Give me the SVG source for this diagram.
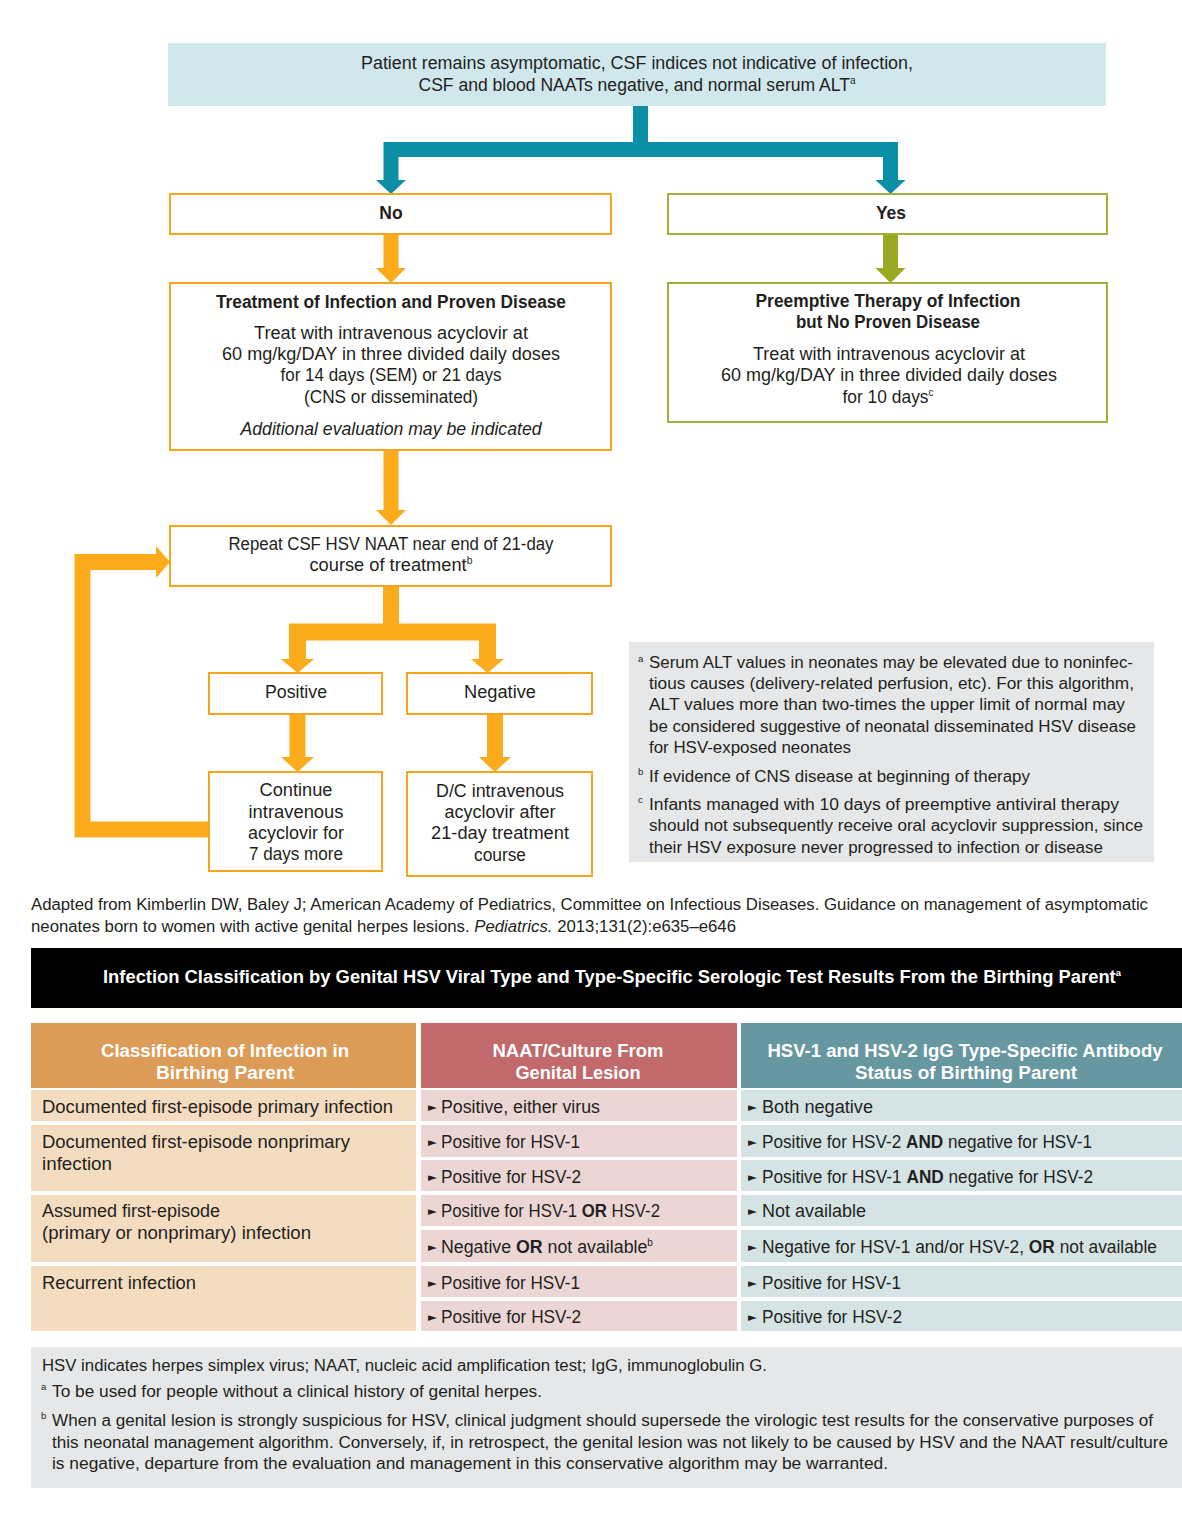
<svg xmlns="http://www.w3.org/2000/svg" width="1182" height="1523" viewBox="0 0 1182 1523">
<style>
.t{font-family:"Liberation Sans",Arial,sans-serif;fill:#231f20;font-size:17.5px}
.s{font-size:16px}
.c{text-anchor:middle}
.b{font-weight:bold}
.i{font-style:italic}
.w{fill:#fff}
.sp{font-family:"Liberation Sans",Arial,sans-serif;fill:#231f20;font-size:9.5px}
.bul{font-family:"DejaVu Sans",sans-serif;font-size:11.5px;fill:#231f20}
.bo{fill:#fff;stroke:#f9a51c;stroke-width:2}
.bg{fill:#fff;stroke:#a2b03a;stroke-width:2}
.teal{fill:none;stroke:#0a8fa7;stroke-width:15;stroke-linejoin:miter}
.tealh{fill:#0a8fa7}
.org{fill:none;stroke:#fbab1c;stroke-width:16;stroke-linejoin:miter}
.orgh{fill:#fbab1c}
.olv{fill:none;stroke:#9ba822;stroke-width:15}
.olvh{fill:#9ba822}
.c1{fill:#f3dcbf}.c2{fill:#ecd6d5}.c3{fill:#d5e3e5}
</style>
<rect width="1182" height="1523" fill="#fff"/>

<g id="connectors">
  <path class="teal" d="M640.5,106 V150"/>
  <path class="teal" d="M391,181 V149.5 H890.5 V181"/>
  <polygon class="tealh" points="376,180 406,180 391,194"/>
  <polygon class="tealh" points="875.5,180 905.5,180 890.5,194"/>
  <path class="org" d="M391,234 V269" style="stroke-width:15"/>
  <polygon class="orgh" points="376,268 406,268 391,283"/>
  <path class="olv" d="M890.5,234 V269"/>
  <polygon class="olvh" points="875.5,268 905.5,268 890.5,283"/>
  <path class="org" d="M391,450 V511" style="stroke-width:15"/>
  <polygon class="orgh" points="376,510 406,510 391,525"/>
  <path class="org" d="M391,586 V632"/>
  <path class="org" d="M297.5,660 V632 H487.5 V660" style="stroke-width:17"/>
  <polygon class="orgh" points="281,659 314,659 297.5,673"/>
  <polygon class="orgh" points="471,659 504,659 487.5,673"/>
  <path class="org" d="M297.5,714 V758"/>
  <polygon class="orgh" points="281,757 314,757 297.5,772"/>
  <path class="org" d="M495,714 V758"/>
  <polygon class="orgh" points="479,757 511,757 495,772"/>
  <path class="org" d="M209,829.5 H82.5 V562 H157"/>
  <polygon class="orgh" points="156,546 156,578 170,562"/>
</g>

<g id="start">
  <rect x="168" y="43" width="938" height="63" fill="#d0e7ec"/>
  <text class="t c" x="637" y="69" textLength="552" lengthAdjust="spacingAndGlyphs">Patient remains asymptomatic, CSF indices not indicative of infection,</text>
  <text class="t c" x="637" y="91" textLength="437" lengthAdjust="spacingAndGlyphs">CSF and blood NAATs negative, and normal serum ALT<tspan font-size="10" dy="-7">a</tspan></text>
</g>

<g id="no">
  <rect class="bo" x="170" y="194" width="441" height="40"/>
  <text class="t c b" x="391" y="219">No</text>
</g>
<g id="yes">
  <rect class="bg" x="668" y="194" width="439" height="40"/>
  <text class="t c b" x="891" y="219">Yes</text>
</g>

<g id="treatment">
  <rect class="bo" x="170" y="283" width="441" height="167"/>
  <text class="t c b" x="391" y="308" textLength="350" lengthAdjust="spacingAndGlyphs">Treatment of Infection and Proven Disease</text>
  <text class="t c" x="391" y="339" textLength="274" lengthAdjust="spacingAndGlyphs">Treat with intravenous acyclovir at</text>
  <text class="t c" x="391" y="360" textLength="338" lengthAdjust="spacingAndGlyphs">60 mg/kg/DAY in three divided daily doses</text>
  <text class="t c" x="391" y="381" textLength="221" lengthAdjust="spacingAndGlyphs">for 14 days (SEM) or 21 days</text>
  <text class="t c" x="391" y="403" textLength="174" lengthAdjust="spacingAndGlyphs">(CNS or disseminated)</text>
  <text class="t c i" x="391" y="435" textLength="301" lengthAdjust="spacingAndGlyphs">Additional evaluation may be indicated</text>
</g>

<g id="preemptive">
  <rect class="bg" x="668" y="283" width="439" height="139"/>
  <text class="t c b" x="888" y="307" textLength="265" lengthAdjust="spacingAndGlyphs">Preemptive Therapy of Infection</text>
  <text class="t c b" x="888" y="328" textLength="184" lengthAdjust="spacingAndGlyphs">but No Proven Disease</text>
  <text class="t c" x="889" y="360" textLength="272" lengthAdjust="spacingAndGlyphs">Treat with intravenous acyclovir at</text>
  <text class="t c" x="889" y="381" textLength="336" lengthAdjust="spacingAndGlyphs">60 mg/kg/DAY in three divided daily doses</text>
  <text class="t c" x="888" y="403" textLength="91" lengthAdjust="spacingAndGlyphs">for 10 days<tspan font-size="10" dy="-7">c</tspan></text>
</g>

<g id="repeat">
  <rect class="bo" x="170" y="526" width="441" height="60"/>
  <text class="t c" x="391" y="550" textLength="325" lengthAdjust="spacingAndGlyphs">Repeat CSF HSV NAAT near end of 21-day</text>
  <text class="t c" x="391" y="571" textLength="163" lengthAdjust="spacingAndGlyphs">course of treatment<tspan font-size="10" dy="-7">b</tspan></text>
</g>

<g id="positive">
  <rect class="bo" x="209" y="673" width="173" height="41"/>
  <text class="t c" x="296" y="698" textLength="62" lengthAdjust="spacingAndGlyphs">Positive</text>
</g>
<g id="negative">
  <rect class="bo" x="407" y="673" width="185" height="41"/>
  <text class="t c" x="500" y="698" textLength="72" lengthAdjust="spacingAndGlyphs">Negative</text>
</g>

<g id="continue">
  <rect class="bo" x="209" y="772" width="173" height="99"/>
  <text class="t c" x="296" y="796" textLength="73" lengthAdjust="spacingAndGlyphs">Continue</text>
  <text class="t c" x="296" y="818" textLength="95" lengthAdjust="spacingAndGlyphs">intravenous</text>
  <text class="t c" x="296" y="839" textLength="96" lengthAdjust="spacingAndGlyphs">acyclovir for</text>
  <text class="t c" x="296" y="860" textLength="94" lengthAdjust="spacingAndGlyphs">7 days more</text>
</g>
<g id="dc">
  <rect class="bo" x="407" y="772" width="185" height="104"/>
  <text class="t c" x="500" y="797" textLength="128" lengthAdjust="spacingAndGlyphs">D/C intravenous</text>
  <text class="t c" x="500" y="818" textLength="111" lengthAdjust="spacingAndGlyphs">acyclovir after</text>
  <text class="t c" x="500" y="839" textLength="138" lengthAdjust="spacingAndGlyphs">21-day treatment</text>
  <text class="t c" x="500" y="861" textLength="52" lengthAdjust="spacingAndGlyphs">course</text>
</g>

<g id="footnotes">
  <rect x="629" y="642" width="525" height="220" fill="#e6e7e8"/>
  <text class="sp" x="638" y="662">a</text>
  <text class="t s" x="649" y="668" textLength="484" lengthAdjust="spacingAndGlyphs">Serum ALT values in neonates may be elevated due to noninfec-</text>
  <text class="t s" x="649" y="689" textLength="485" lengthAdjust="spacingAndGlyphs">tious causes (delivery-related perfusion, etc). For this algorithm,</text>
  <text class="t s" x="649" y="710" textLength="476" lengthAdjust="spacingAndGlyphs">ALT values more than two-times the upper limit of normal may</text>
  <text class="t s" x="649" y="732" textLength="487" lengthAdjust="spacingAndGlyphs">be considered suggestive of neonatal disseminated HSV disease</text>
  <text class="t s" x="649" y="753" textLength="202" lengthAdjust="spacingAndGlyphs">for HSV-exposed neonates</text>
  <text class="sp" x="638" y="775">b</text>
  <text class="t s" x="649" y="782" textLength="381" lengthAdjust="spacingAndGlyphs">If evidence of CNS disease at beginning of therapy</text>
  <text class="sp" x="638" y="803">c</text>
  <text class="t s" x="649" y="810" textLength="470" lengthAdjust="spacingAndGlyphs">Infants managed with 10 days of preemptive antiviral therapy</text>
  <text class="t s" x="649" y="831" textLength="494" lengthAdjust="spacingAndGlyphs">should not subsequently receive oral acyclovir suppression, since</text>
  <text class="t s" x="649" y="853" textLength="454" lengthAdjust="spacingAndGlyphs">their HSV exposure never progressed to infection or disease</text>
</g>

<g id="citation">
  <text class="t s" x="31" y="910" textLength="1117" lengthAdjust="spacingAndGlyphs">Adapted from Kimberlin DW, Baley J; American Academy of Pediatrics, Committee on Infectious Diseases. Guidance on management of asymptomatic</text>
  <text class="t s" x="31" y="932" textLength="705" lengthAdjust="spacingAndGlyphs">neonates born to women with active genital herpes lesions. <tspan font-style="italic">Pediatrics.</tspan> 2013;131(2):e635–e646</text>
</g>

<g id="table-title">
  <rect x="31" y="948" width="1151" height="60" fill="#000"/>
  <text class="t c b w" x="612" y="983" textLength="1018" lengthAdjust="spacingAndGlyphs">Infection Classification by Genital HSV Viral Type and Type-Specific Serologic Test Results From the Birthing Parent<tspan font-size="9" dy="-7">a</tspan></text>
</g>

<g id="table-header">
  <rect x="31" y="1023" width="385" height="65" fill="#dc9b57"/>
  <rect x="421" y="1023" width="316" height="65" fill="#c1696b"/>
  <rect x="741" y="1023" width="441" height="65" fill="#6797a0"/>
  <text class="t c b w" font-size="18.5" x="225" y="1057" textLength="248" lengthAdjust="spacingAndGlyphs">Classification of Infection in</text>
  <text class="t c b w" font-size="18.5" x="225" y="1079" textLength="138" lengthAdjust="spacingAndGlyphs">Birthing Parent</text>
  <text class="t c b w" font-size="18.5" x="578" y="1057" textLength="171" lengthAdjust="spacingAndGlyphs">NAAT/Culture From</text>
  <text class="t c b w" font-size="18.5" x="578" y="1079" textLength="125" lengthAdjust="spacingAndGlyphs">Genital Lesion</text>
  <text class="t c b w" font-size="18.5" x="965" y="1057" textLength="395" lengthAdjust="spacingAndGlyphs">HSV-1 and HSV-2 IgG Type-Specific Antibody</text>
  <text class="t c b w" font-size="18.5" x="966" y="1079" textLength="222" lengthAdjust="spacingAndGlyphs">Status of Birthing Parent</text>
</g>

<g id="table-body">
  <rect class="c1" x="31" y="1090" width="385" height="31"/>
  <rect class="c1" x="31" y="1125" width="385" height="66"/>
  <rect class="c1" x="31" y="1195" width="385" height="67"/>
  <rect class="c1" x="31" y="1266" width="385" height="65"/>
  <rect class="c2" x="421" y="1090" width="316" height="31"/>
  <rect class="c2" x="421" y="1125" width="316" height="32"/>
  <rect class="c2" x="421" y="1160" width="316" height="31"/>
  <rect class="c2" x="421" y="1195" width="316" height="31"/>
  <rect class="c2" x="421" y="1230" width="316" height="32"/>
  <rect class="c2" x="421" y="1266" width="316" height="31"/>
  <rect class="c2" x="421" y="1301" width="316" height="30"/>
  <rect class="c3" x="741" y="1090" width="441" height="31"/>
  <rect class="c3" x="741" y="1125" width="441" height="32"/>
  <rect class="c3" x="741" y="1160" width="441" height="31"/>
  <rect class="c3" x="741" y="1195" width="441" height="31"/>
  <rect class="c3" x="741" y="1230" width="441" height="32"/>
  <rect class="c3" x="741" y="1266" width="441" height="31"/>
  <rect class="c3" x="741" y="1301" width="441" height="30"/>

  <text class="t" x="42" y="1113" textLength="351" lengthAdjust="spacingAndGlyphs">Documented first-episode primary infection</text>
  <text class="t" x="42" y="1148" textLength="308" lengthAdjust="spacingAndGlyphs">Documented first-episode nonprimary</text>
  <text class="t" x="42" y="1170" textLength="70" lengthAdjust="spacingAndGlyphs">infection</text>
  <text class="t" x="42" y="1217" textLength="178" lengthAdjust="spacingAndGlyphs">Assumed first-episode</text>
  <text class="t" x="42" y="1239" textLength="269" lengthAdjust="spacingAndGlyphs">(primary or nonprimary) infection</text>
  <text class="t" x="42" y="1289" textLength="154" lengthAdjust="spacingAndGlyphs">Recurrent infection</text>

  <text class="bul" x="428" y="1111">►</text>
  <text class="bul" x="428" y="1146">►</text>
  <text class="bul" x="428" y="1181">►</text>
  <text class="bul" x="428" y="1215">►</text>
  <text class="bul" x="428" y="1251">►</text>
  <text class="bul" x="428" y="1287">►</text>
  <text class="bul" x="428" y="1321">►</text>
  <text class="t" x="441" y="1113" textLength="159" lengthAdjust="spacingAndGlyphs">Positive, either virus</text>
  <text class="t" x="441" y="1148" textLength="139" lengthAdjust="spacingAndGlyphs">Positive for HSV-1</text>
  <text class="t" x="441" y="1183" textLength="140" lengthAdjust="spacingAndGlyphs">Positive for HSV-2</text>
  <text class="t" x="441" y="1217" textLength="219" lengthAdjust="spacingAndGlyphs">Positive for HSV-1 <tspan font-weight="bold">OR</tspan> HSV-2</text>
  <text class="t" x="441" y="1253" textLength="212" lengthAdjust="spacingAndGlyphs">Negative <tspan font-weight="bold">OR</tspan> not available<tspan font-size="10" dy="-7">b</tspan></text>
  <text class="t" x="441" y="1289" textLength="139" lengthAdjust="spacingAndGlyphs">Positive for HSV-1</text>
  <text class="t" x="441" y="1323" textLength="140" lengthAdjust="spacingAndGlyphs">Positive for HSV-2</text>

  <text class="bul" x="748" y="1111">►</text>
  <text class="bul" x="748" y="1146">►</text>
  <text class="bul" x="748" y="1181">►</text>
  <text class="bul" x="748" y="1215">►</text>
  <text class="bul" x="748" y="1251">►</text>
  <text class="bul" x="748" y="1287">►</text>
  <text class="bul" x="748" y="1321">►</text>
  <text class="t" x="762" y="1113" textLength="111" lengthAdjust="spacingAndGlyphs">Both negative</text>
  <text class="t" x="762" y="1148" textLength="330" lengthAdjust="spacingAndGlyphs">Positive for HSV-2 <tspan font-weight="bold">AND</tspan> negative for HSV-1</text>
  <text class="t" x="762" y="1183" textLength="331" lengthAdjust="spacingAndGlyphs">Positive for HSV-1 <tspan font-weight="bold">AND</tspan> negative for HSV-2</text>
  <text class="t" x="762" y="1217" textLength="104" lengthAdjust="spacingAndGlyphs">Not available</text>
  <text class="t" x="762" y="1253" textLength="395" lengthAdjust="spacingAndGlyphs">Negative for HSV-1 and/or HSV-2, <tspan font-weight="bold">OR</tspan> not available</text>
  <text class="t" x="762" y="1289" textLength="139" lengthAdjust="spacingAndGlyphs">Positive for HSV-1</text>
  <text class="t" x="762" y="1323" textLength="140" lengthAdjust="spacingAndGlyphs">Positive for HSV-2</text>
</g>

<g id="table-notes">
  <rect x="31" y="1347" width="1151" height="141" fill="#e6e7e8"/>
  <text class="t s" x="42" y="1371" textLength="725" lengthAdjust="spacingAndGlyphs">HSV indicates herpes simplex virus; NAAT, nucleic acid amplification test; IgG, immunoglobulin G.</text>
  <text class="sp" x="41" y="1390">a</text>
  <text class="t s" x="52" y="1397" textLength="490" lengthAdjust="spacingAndGlyphs">To be used for people without a clinical history of genital herpes.</text>
  <text class="sp" x="41" y="1419">b</text>
  <text class="t s" x="52" y="1426" textLength="1101" lengthAdjust="spacingAndGlyphs">When a genital lesion is strongly suspicious for HSV, clinical judgment should supersede the virologic test results for the conservative purposes of</text>
  <text class="t s" x="52" y="1448" textLength="1116" lengthAdjust="spacingAndGlyphs">this neonatal management algorithm. Conversely, if, in retrospect, the genital lesion was not likely to be caused by HSV and the NAAT result/culture</text>
  <text class="t s" x="52" y="1469" textLength="836" lengthAdjust="spacingAndGlyphs">is negative, departure from the evaluation and management in this conservative algorithm may be warranted.</text>
</g>
</svg>
